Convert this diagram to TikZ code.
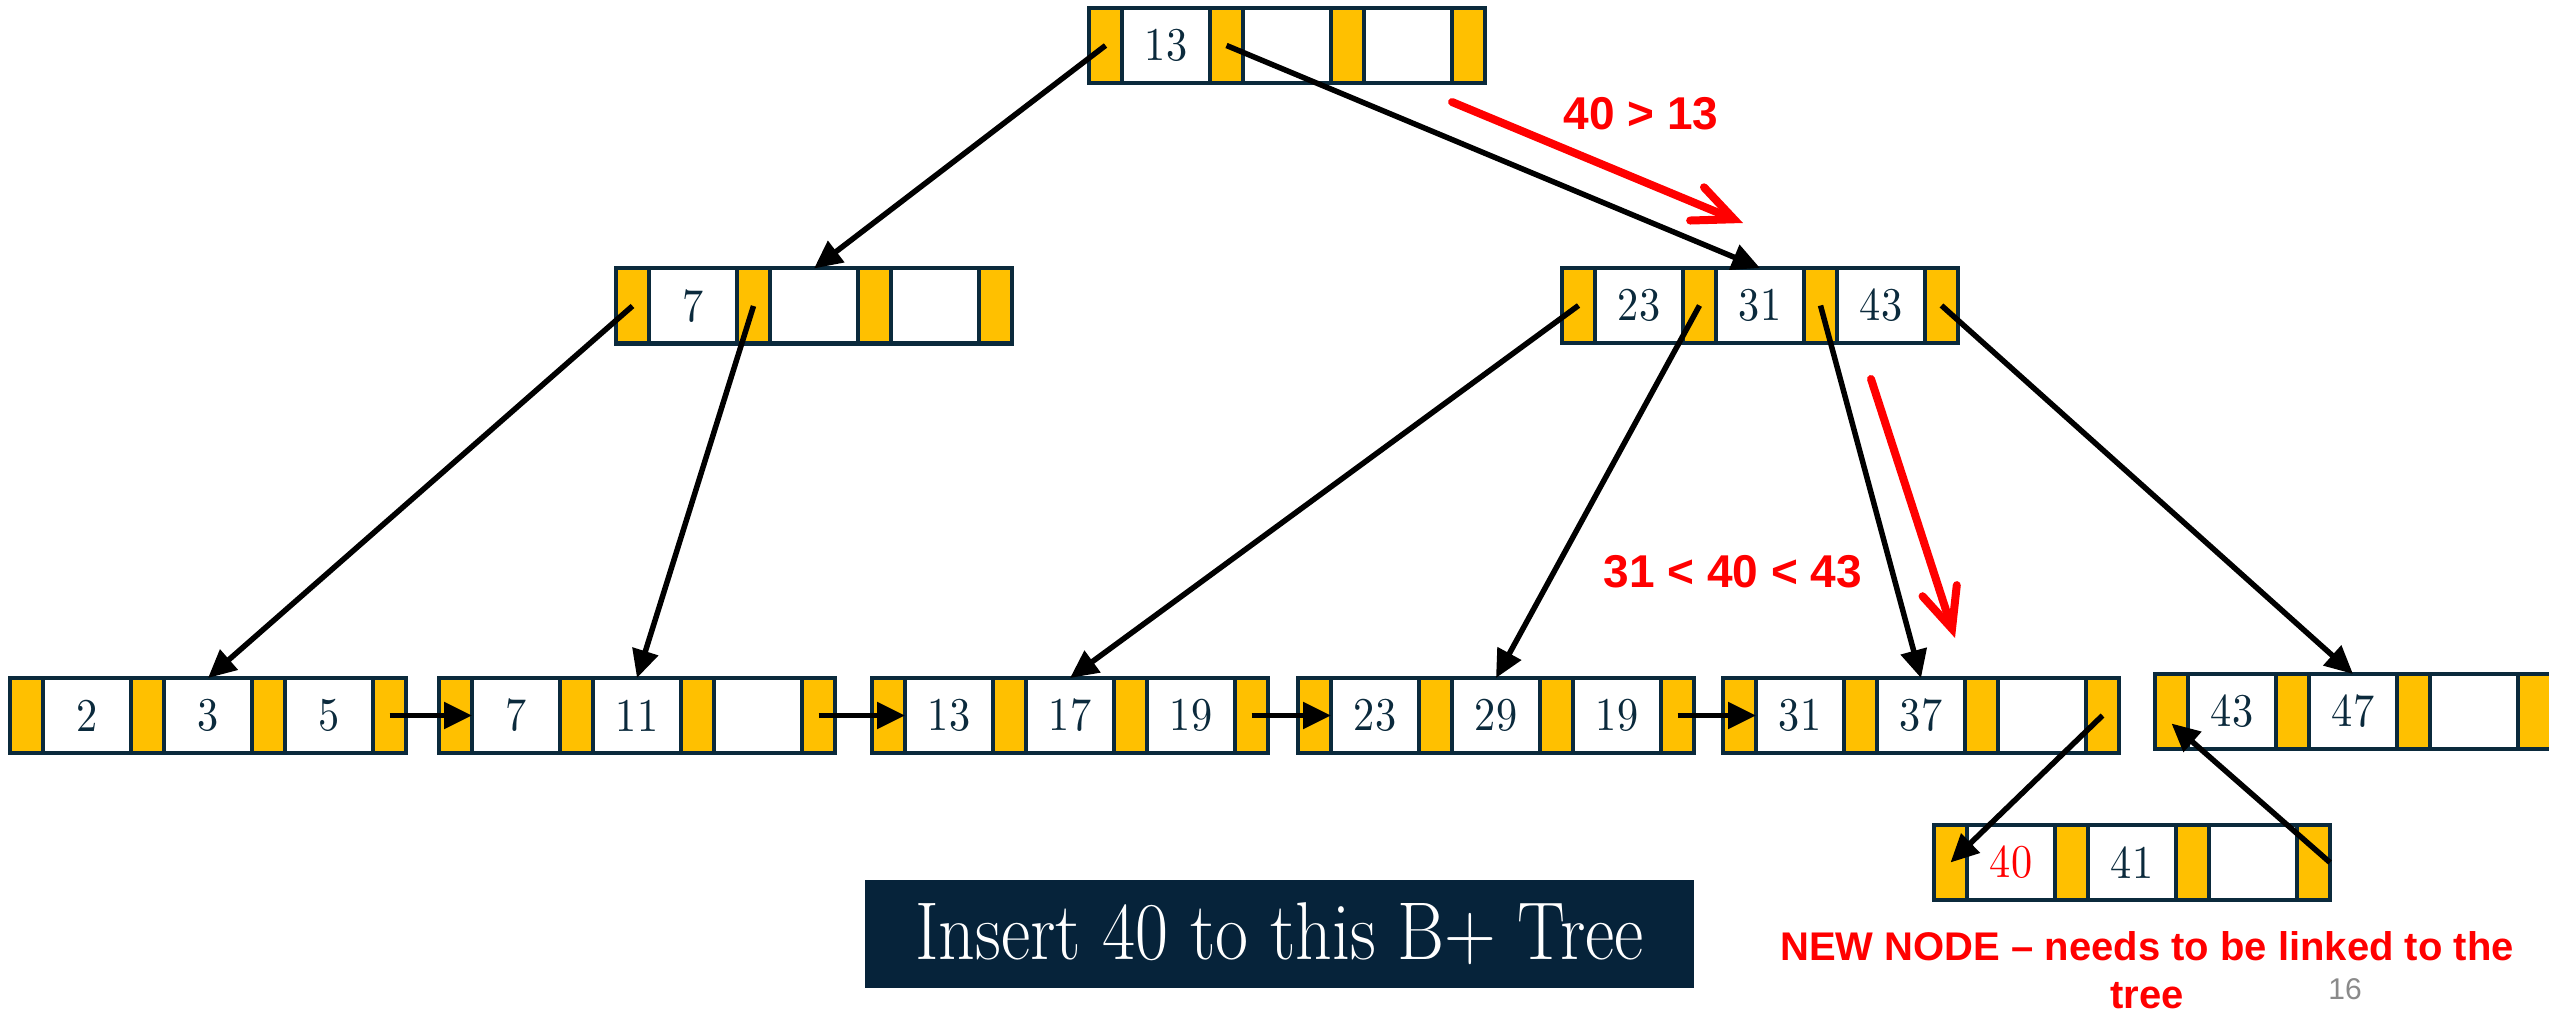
\documentclass[tikz,border=0pt]{standalone}
\usepackage{fontspec}
\setsansfont{Liberation Sans}
\newfontfamily\cellfont[FakeStretch=0.9]{lmroman10-regular.otf}
\newfontfamily\bannerfont[FakeStretch=0.875]{lmroman17-regular.otf}
\usetikzlibrary{positioning,arrows.meta}

\definecolor{ptryellow}{HTML}{FFC000}
\definecolor{cellnavy}{HTML}{0B2A3C}
\definecolor{bannernavy}{HTML}{06233A}
\definecolor{hintred}{HTML}{FF0000}
\definecolor{pagegray}{HTML}{8A8A8A}

\tikzset{
	cell/.style={draw=cellnavy, line width=4pt, outer sep=0pt, inner sep=0pt, minimum height=75pt},
	ptrcell/.style={cell, fill=ptryellow, minimum width=33pt},
	keycell/.style={cell, fill=white, minimum width=88pt, text=cellnavy, font=\cellfont\fontsize{47}{52}\selectfont},
	link/.style={line width=5.5pt, -{Triangle[length=28pt,width=26pt]}},
	hint/.style={draw=hintred, line width=8pt, line cap=round, -{Straight Barb[length=40pt,width=36pt,line cap=round]}},
	hinttext/.style={text=hintred, font=\sffamily\bfseries\fontsize{46}{50}\selectfont},
}

% one B+ tree node: name, left edge, middle height, three keys
\newcommand{\bpnode}[6]{%
	\node[ptrcell, anchor=west] (#1-p0) at (#2,#3) {};
	\node[keycell, right=0pt of #1-p0] (#1-k1) {#4};
	\node[ptrcell, right=0pt of #1-k1] (#1-p1) {};
	\node[keycell, right=0pt of #1-p1] (#1-k2) {#5};
	\node[ptrcell, right=0pt of #1-k2] (#1-p2) {};
	\node[keycell, right=0pt of #1-p2] (#1-k3) {#6};
	\node[ptrcell, right=0pt of #1-k3] (#1-p3) {};
}

\begin{document}
\begin{tikzpicture}[x=1pt,y=-1pt]
			\useasboundingbox (0,0) rectangle (2549,1016);
			\fill[white] (0,0) rectangle (2549,1016);

			\bpnode{root}{1089}{45.5}{13}{}{}
			\bpnode{il}{616}{306}{7}{}{}
			\bpnode{ir}{1562}{305.5}{23}{31}{43}

			\bpnode{l1}{10}{715.5}{2}{3}{5}
			\bpnode{l2}{439}{715.5}{7}{11}{}
			\bpnode{l3}{872}{715.5}{13}{17}{19}
			\bpnode{l4}{1298}{715.5}{23}{29}{19}
			\bpnode{l5}{1723}{715.5}{31}{37}{}
			\bpnode{l6}{2155}{711.5}{43}{47}{}

			\bpnode{nw}{1934}{862.5}{\textcolor{hintred}{40}}{41}{}

			\draw[link] (root-p0.center) -- (il-k2.north);
			\draw[link] (root-p1.center) -- (ir-k2.north);
			\draw[link] (il-p0.center) -- (l1-k2.north);
			\draw[link] (il-p1.center) -- (l2-k2.north);
			\draw[link] (ir-p0.center) -- (l3-k2.north);
			\draw[link] (ir-p1.center) -- (l4-k2.north);
			\draw[link] (ir-p2.center) -- (l5-k2.north);
			\draw[link] (ir-p3.center) -- (l6-k2.north);

			\draw[link] (l1-p3.center) -- (l2-p0.east);
			\draw[link] (l2-p3.center) -- (l3-p0.east);
			\draw[link] (l3-p3.center) -- (l4-p0.east);
			\draw[link] (l4-p3.center) -- (l5-p0.east);

			\draw[link] (l5-p3.center) -- (nw-p0.center);
			\draw[link] (nw-p3.east) -- ([yshift=-12pt]l6-p0.center);

			\coordinate (hintA) at (1452,102);
			\coordinate (hintB) at (1743,223);
			\draw[hint] (hintA) -- (hintB);
			\node[hinttext] (cmpA) at (1641,114) {40 > 13};

			\coordinate (hintC) at (1871,379);
			\coordinate (hintD) at (1955,638);
			\draw[hint] (hintC) -- (hintD);
			\node[hinttext] (cmpB) at (1733,572) {31 < 40 < 43};

			\node[fill=bannernavy, minimum width=829pt, minimum height=108pt, text=white,
				font=\bannerfont\fontsize{82}{86}\selectfont] (banner) at (1279.5,933.5) {Insert 40 to this B+ Tree};

			\node[text=hintred, align=center, font=\sffamily\bfseries\fontsize{40}{48}\selectfont] (note) at (2147,970)
				{NEW NODE -- needs to be linked to the\\tree};
			\node[text=pagegray, font=\sffamily\fontsize{30}{34}\selectfont] (pagenum) at (2345,989) {16};
		\end{tikzpicture}
\end{document}
